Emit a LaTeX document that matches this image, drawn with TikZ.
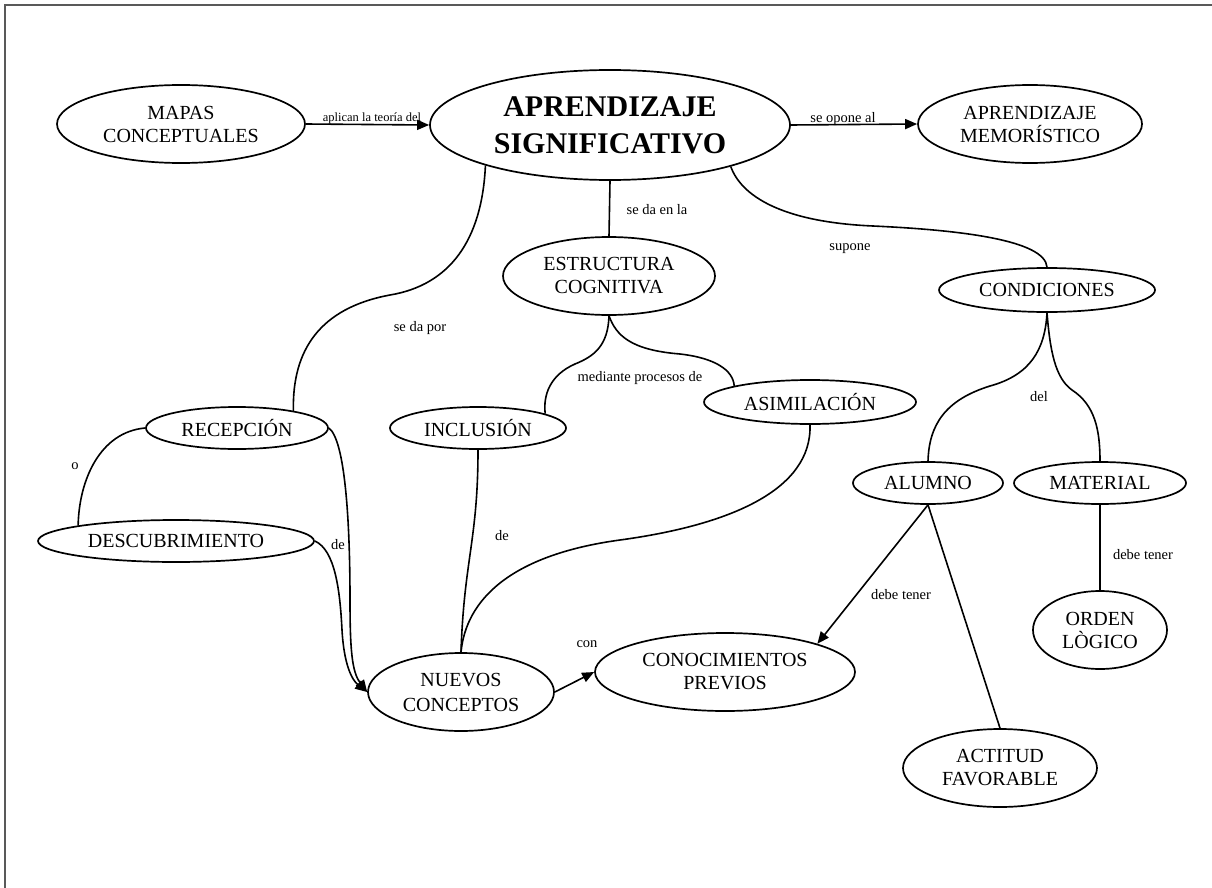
\documentclass[tikz,border=0pt]{standalone}
\usepackage{fontspec}
\setmainfont{Liberation Serif}
\usetikzlibrary{shapes.geometric,arrows.meta}
\begin{document}
\begin{tikzpicture}[x=1pt,y=-1pt,
  concept/.style={draw, ellipse, line width=1.7pt, inner sep=0pt, align=center, font=\fontsize{20}{23}\selectfont},
  lbl/.style={font=\fontsize{14.5}{16}\selectfont, inner sep=0pt},
  link/.style={line width=1.6pt},
  arr/.style={link, -{Triangle[length=12pt,width=10pt]}},
]
\useasboundingbox (0,0) rectangle (1212,888);
\fill[white] (0,0) rectangle (1212,888);
\draw[line width=2.5pt, black!65] (5,888) -- (5,5) -- (1212,5);

% concepts
\node[concept, minimum width=248, minimum height=78] (mapas) at (181,124) {MAPAS\\CONCEPTUALES};
\node[concept, minimum width=360, minimum height=110, font=\bfseries\fontsize{30}{37}\selectfont] (as) at (610,125) {APRENDIZAJE\\SIGNIFICATIVO};
\node[concept, minimum width=224, minimum height=78] (am) at (1030,124) {APRENDIZAJE\\MEMORÍSTICO};
\node[concept, minimum width=212, minimum height=78] (est) at (609,276) {ESTRUCTURA\\COGNITIVA};
\node[concept, minimum width=216, minimum height=44] (cond) at (1047,290) {CONDICIONES};
\node[concept, minimum width=182, minimum height=42] (rec) at (237,428) {RECEPCIÓN};
\node[concept, minimum width=276, minimum height=42] (desc) at (176,541) {DESCUBRIMIENTO};
\node[concept, minimum width=176, minimum height=42] (inc) at (478,428) {INCLUSIÓN};
\node[concept, minimum width=212, minimum height=44] (asim) at (810,402) {ASIMILACIÓN};
\node[concept, minimum width=150, minimum height=42] (alu) at (928,483) {ALUMNO};
\node[concept, minimum width=172, minimum height=42] (mat) at (1100,483) {MATERIAL};
\node[concept, minimum width=186, minimum height=78, font=\fontsize{20}{25}\selectfont] (nue) at (461,692) {NUEVOS\\CONCEPTOS};
\node[concept, minimum width=260, minimum height=78] (con) at (725,672) {CONOCIMIENTOS\\PREVIOS};
\node[concept, minimum width=134, minimum height=78] (ord) at (1100,630) {ORDEN\\LÒGICO};
\node[concept, minimum width=194, minimum height=78] (act) at (1000,768) {ACTITUD\\FAVORABLE};

% connectors
\draw[arr] (mapas.east) -- (as.west);
\draw[arr] (as.east) -- (am.west);
\draw[link] (as.south) -- (est.north);
\draw[link] (as.341) .. controls (741,195) and (780,222) .. (873,226)
                     .. controls (960,230) and (1045,240) .. (cond.north);
\draw[link] (as.198) .. controls (482,240) and (450,285) .. (390,295)
                     .. controls (320,308) and (292,350) .. (rec.17);
\draw[link] (rec.west) .. controls (100,432) and (79,480) .. (desc.171);
\draw[arr] (rec.east) .. controls (345,440) and (350,520) .. (350,600)
                      .. controls (350,650) and (352,672) .. (nue.west);
\draw[arr] (desc.east) .. controls (335,550) and (340,590) .. (342,630)
                       .. controls (344,665) and (352,680) .. (nue.west);
\draw[link] (est.south) .. controls (608,345) and (595,356) .. (575,364)
                        .. controls (550,375) and (543,395) .. (inc.12);
\draw[link] (est.south) .. controls (616,335) and (630,350) .. (680,354)
                        .. controls (715,358) and (733,370) .. (asim.168);
\draw[link] (inc.south) .. controls (478,540) and (464,560) .. (nue.north);
\draw[link] (asim.south) .. controls (812,490) and (730,525) .. (620,540)
                         .. controls (510,555) and (466,600) .. (nue.north);
\draw[arr] (nue.east) -- (con.west);
\draw[link] (cond.south) .. controls (1045,350) and (1030,375) .. (990,386)
                         .. controls (945,400) and (929,425) .. (alu.north);
\draw[link] (cond.south) .. controls (1050,350) and (1055,378) .. (1072,390)
                         .. controls (1095,405) and (1100,430) .. (mat.north);
\draw[arr] (alu.south) -- (con.17);
\draw[link] (alu.south) -- (act.north);
\draw[link] (mat.south) -- (ord.north);

% labels
\node[lbl, font=\fontsize{12.5}{14}\selectfont] (l1) at (372,118) {aplican la teoría del};
\node[lbl] (l2) at (843,119) {se opone al};
\node[lbl] (l3) at (657,210) {se da en la};
\node[lbl] (l4) at (850,249) {supone};
\node[lbl] (l5) at (420,328) {se da por};
\node[lbl] (l6) at (640,378) {mediante procesos de};
\node[lbl] (l7) at (75,466) {o};
\node[lbl] (l8) at (338,545) {de};
\node[lbl] (l9) at (502,536) {de};
\node[lbl] (l10) at (587,644) {con};
\node[lbl] (l11) at (1039,397) {del};
\node[lbl] (l12) at (901,595) {debe tener};
\node[lbl] (l13) at (1143,555) {debe tener};
\end{tikzpicture}
\end{document}
